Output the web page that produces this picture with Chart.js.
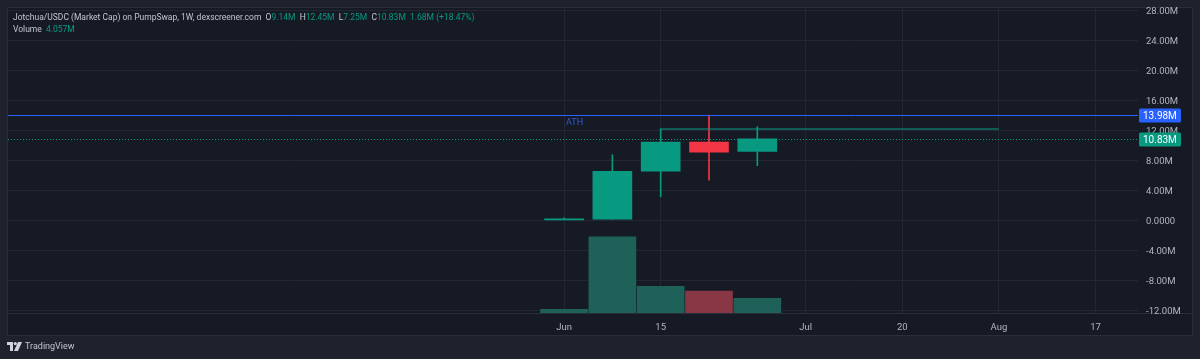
<!DOCTYPE html>
<html>
<head>
<meta charset="utf-8">
<script src="https://cdn.jsdelivr.net/npm/chart.js@4"></script>
<style>
  html, body { margin: 0; padding: 0; background: #1e222d; overflow: hidden; }
  #wrap { position: relative; width: 1200px; height: 359px; }
  #chart { position: absolute; left: 0; top: 0; }
  .legend { position: absolute; left: 13px; font: 8.5px Roboto, sans-serif; color: #c3c6ce; white-space: pre; }
  .legend .g { color: #089981; }
  #logo { position: absolute; left: 7px; top: 341px; font: 9px Roboto, sans-serif; color: #c3c6ce; display: flex; align-items: center; gap: 3px; }
</style>
</head>
<body>
<div id="wrap">
  <canvas id="chart" width="1200" height="359"></canvas>
  <div class="legend" style="top:12px">Jotchua/USDC (Market Cap) on PumpSwap, 1W, dexscreener.com  O<span class="g">9.14M</span>  H<span class="g">12.45M</span>  L<span class="g">7.25M</span>  C<span class="g">10.83M</span>  <span class="g">1.68M (+18.47%)</span></div>
  <div class="legend" style="top:24px">Volume  <span class="g">4.057M</span></div>
  <div id="logo">
    <svg width="15" height="9" viewBox="0 0 15 9"><path d="M0 0h6v9H3V3H0z" fill="#d1d4dc"/><circle cx="8.3" cy="1.6" r="1.6" fill="#d1d4dc"/><path d="M11 0h4l-4 9H7z" fill="#d1d4dc"/></svg>
    <span>TradingView</span>
  </div>
</div>
<script>
// weekly candles (values in millions)
const weekIdx = [0, 1, 2, 3, 4];
const opens   = [0.02, 0.12, 6.5, 10.4, 9.14];
const highs   = [0.30, 8.7, 12.15, 13.98, 12.45];
const lows    = [0.00, 0.10, 3.1, 5.3, 7.25];
const closes  = [0.12, 6.5, 10.4, 9.03, 10.83];
const volumes = [1.02, 20.97, 7.37, 6.07, 4.057];

// axes
const priceTicks = [-12, -8, -4, 0, 4, 8, 12, 16, 20, 24, 28];
const timeTickIdx = [0, 2, 5, 7, 9, 11];
const timeTickLabels = ['Jun', '15', 'Jul', '20', 'Aug', '17'];

// markers
const athValue = 13.98;
const lastClose = 10.83;
const levelFrom = 2, levelTo = 9, levelValue = 12.15;

const GREEN = '#089981';
const RED = '#f23645';
const GRID = '#232733';
const FONT = { family: 'Roboto, sans-serif', size: 9.5 };

const up = weekIdx.map(i => closes[i] >= opens[i]);
const candleColor = up.map(u => u ? GREEN : RED);
const volColor = up.map(u => u ? '#1d6158' : '#8a3745');

const fmt = v => v === 0 ? '0.0000' : v.toFixed(2) + 'M';

const bgPlugin = {
  id: 'bg',
  beforeDraw(chart) {
    const c = chart.ctx;
    c.save();
    c.fillStyle = '#1e222d';
    c.fillRect(0, 0, chart.width, chart.height);
    c.fillStyle = '#161a25';
    c.fillRect(8, 8, 1184, 327);
    c.strokeStyle = '#2a2e39';
    c.lineWidth = 1;
    c.strokeRect(7.5, 7.5, 1185, 328);
    const b = chart.chartArea.bottom;
    c.beginPath();
    c.moveTo(8, b + 0.5);
    c.lineTo(1192, b + 0.5);
    c.stroke();
    c.restore();
  }
};

const markersPlugin = {
  id: 'markers',
  afterDraw(chart) {
    const c = chart.ctx;
    const y = chart.scales.y, x = chart.scales.x;
    const a = chart.chartArea;
    c.save();
    // ATH line
    const ya = Math.round(y.getPixelForValue(athValue)) + 0.5;
    c.strokeStyle = '#2962ff';
    c.lineWidth = 1;
    c.beginPath(); c.moveTo(a.left, ya); c.lineTo(a.right, ya); c.stroke();
    c.fillStyle = '#2f5bd6';
    c.font = '9px Roboto, sans-serif';
    c.textBaseline = 'middle';
    c.textAlign = 'left';
    c.fillText('ATH', x.getPixelForValue(0) + 2, ya + 7);
    // last price dotted line
    const yc = Math.round(y.getPixelForValue(lastClose)) + 0.5;
    c.strokeStyle = GREEN;
    c.setLineDash([1, 2]);
    c.beginPath(); c.moveTo(a.left, yc); c.lineTo(a.right, yc); c.stroke();
    c.setLineDash([]);
    // price boxes
    const box = (yy, col, txt) => {
      c.fillStyle = col;
      c.beginPath();
      c.roundRect(a.right + 1, yy - 7, 42, 14, 1.5);
      c.fill();
      c.fillStyle = '#ffffff';
      c.font = '10px Roboto, sans-serif';
      c.fillText(txt, a.right + 5, yy + 0.5);
    };
    box(ya, '#2962ff', fmt(athValue));
    box(yc, GREEN, fmt(lastClose));
    c.restore();
  }
};

new Chart(document.getElementById('chart'), {
  type: 'bar',
  data: {
    datasets: [
      {
        type: 'line',
        data: [{ x: levelFrom, y: levelValue }, { x: levelTo, y: levelValue }],
        borderColor: 'rgba(8,153,129,0.7)',
        borderWidth: 1.5,
        pointRadius: 0,
        yAxisID: 'y',
        order: 0
      },
      {
        data: weekIdx.map(i => ({ x: i, y: [opens[i], closes[i]] })),
        backgroundColor: candleColor,
        barThickness: 39,
        minBarLength: 1,
        grouped: false,
        yAxisID: 'y',
        order: 1
      },
      {
        data: weekIdx.map(i => ({ x: i, y: [lows[i], highs[i]] })),
        backgroundColor: candleColor,
        barThickness: 1,
        grouped: false,
        yAxisID: 'y',
        order: 2
      },
      {
        data: weekIdx.map(i => ({ x: i, y: volumes[i] })),
        backgroundColor: volColor,
        barThickness: 47,
        grouped: false,
        yAxisID: 'yv',
        order: 3
      }
    ]
  },
  options: {
    responsive: false,
    animation: false,
    events: [],
    layout: { padding: { left: 8, top: 8, right: 8, bottom: 24 } },
    plugins: { legend: { display: false }, tooltip: { enabled: false } },
    scales: {
      x: {
        type: 'linear',
        offset: false,
        min: -11.51,
        max: 11.88,
        afterBuildTicks: s => { s.ticks = timeTickIdx.map(v => ({ value: v })); },
        afterFit: s => { s.height = 22; s.paddingLeft = 0; s.paddingRight = 0; },
        ticks: {
          callback: v => timeTickLabels[timeTickIdx.indexOf(v)],
          color: '#b2b5be',
          font: FONT,
          padding: 9,
          maxRotation: 0,
          autoSkip: false
        },
        grid: { color: GRID, drawTicks: false, offset: false },
        border: { display: false }
      },
      y: {
        position: 'right',
        min: -12.4,
        max: 28.27,
        afterBuildTicks: s => { s.ticks = priceTicks.map(v => ({ value: v })); },
        afterFit: s => { s.width = 54; s.paddingTop = 0; s.paddingBottom = 0; },
        ticks: { callback: fmt, color: '#b2b5be', font: FONT, padding: 8, labelOffset: 2 },
        grid: { color: GRID, drawTicks: false },
        border: { display: false }
      },
      yv: {
        display: false,
        min: 0,
        max: 84
      }
    }
  },
  plugins: [bgPlugin, markersPlugin]
});
</script>
</body>
</html>
